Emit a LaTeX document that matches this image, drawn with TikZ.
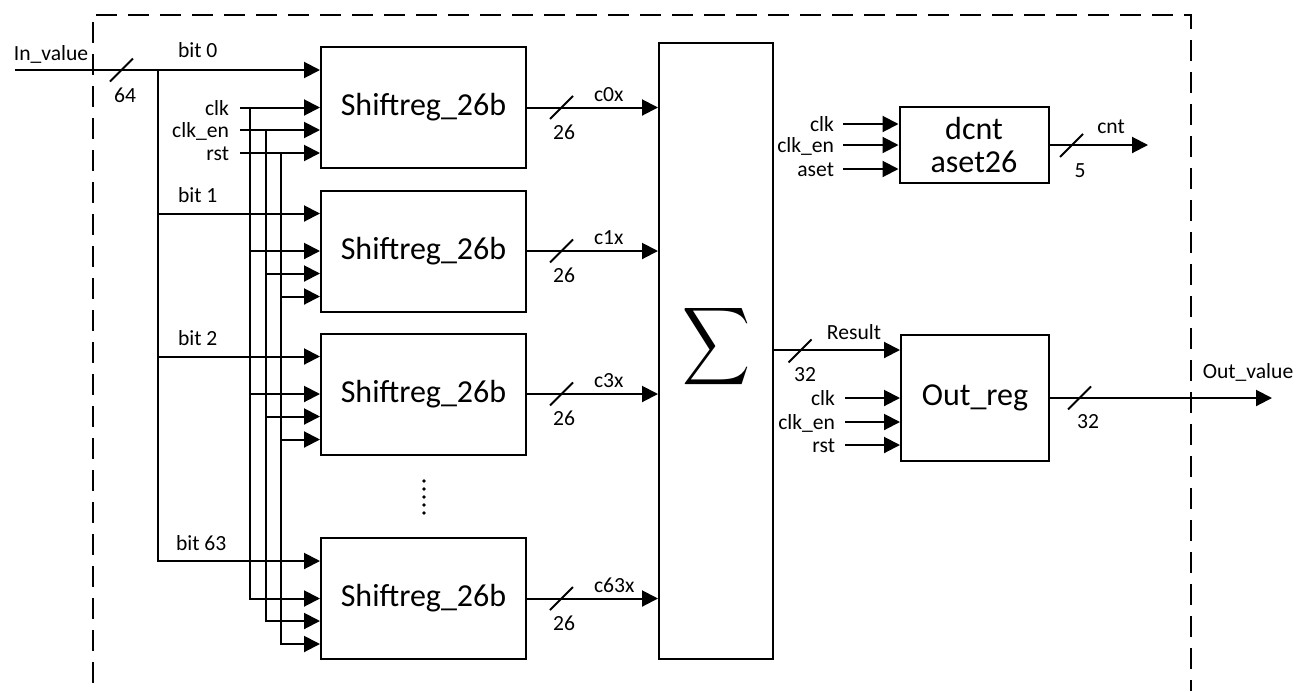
\documentclass[tikz,border=0pt]{standalone}
\usepackage{fontspec}
\setmainfont{Carlito}
\usepackage{graphicx}
\usetikzlibrary{arrows.meta}
\begin{document}
\begin{tikzpicture}[x=0.5pt,y=-0.5pt,line width=1pt,
  arr/.style={-{Triangle[length=8pt,width=8pt]}},
  lbl/.style={font=\fontsize{10.8}{12}\selectfont,inner sep=0pt,text height=7.6pt,text depth=0pt},
  blk/.style={draw,line width=1pt,inner sep=0pt,align=center,font=\fontsize{16}{16.5}\selectfont},
  srbox/.style={blk,minimum width=102.5pt,minimum height=60.5pt},
  frame/.style={line width=1.35pt,dash pattern=on 10.5pt off 5.5pt},
  slash/.style={line width=1pt}]
\useasboundingbox (0,0) rectangle (1304,691);

% dashed frame
\draw[frame] (96,15) -- (1191,15) -- (1191,691);
\draw[frame] (93,22) -- (93,691);

% shift registers
\node[srbox] (sr1) at (423.5,107.5) {Shiftreg\_26b};
\node[srbox] (sr2) at (423.5,251) {Shiftreg\_26b};
\node[srbox] (sr3) at (423.5,394) {Shiftreg\_26b};
\node[srbox] (sr4) at (423.5,598.5) {Shiftreg\_26b};

% sum
\node[blk,minimum width=57pt,minimum height=308pt] (sum) at (716,351) {};
\node[inner sep=0pt] (sigma) at (716,346.5) {\resizebox*{34pt}{43.5pt}{\boldmath$\displaystyle\sum$}};

% counter and output register
\node[blk,minimum width=74.5pt,minimum height=38pt] (dcnt) at (974,145) {dcnt\\aset26};
\node[blk,minimum width=74pt,minimum height=63pt] (outr) at (975,398) {Out\_reg};

% per-register tap points
\foreach \i in {1,...,4} {
  \coordinate (b\i) at ([yshift=18.75pt]sr\i.west);
  \coordinate (e\i) at ([yshift=-11.25pt]sr\i.west);
  \coordinate (r\i) at ([yshift=-22.75pt]sr\i.west);
}

% input bus
\node[lbl] (inv) at (51,53) {In\_value};
\coordinate (inS) at (15,70);
\coordinate (bj) at (158,70);
\draw[arr] (inS) -- (b1);
\draw[slash] (110,81.5) -- (133,58.5);
\node[lbl] (w64) at (125,95) {64};
\draw[arr] (bj) |- (b4);
\draw[arr] (bj |- b2) -- (b2);
\draw[arr] (bj |- b3) -- (b3);
\node[lbl,anchor=west] (lb0) at (177,50) {bit 0};
\node[lbl,anchor=west] (lb1) at (177,195) {bit 1};
\node[lbl,anchor=west] (lb2) at (177,338) {bit 2};
\node[lbl,anchor=west] (lb63) at (175,543) {bit 63};

% clock / enable / reset distribution
\node[lbl,anchor=east] (clkA) at (230,107.5) {clk};
\node[lbl,anchor=east] (ceA) at (230,130) {clk\_en};
\node[lbl,anchor=east] (rsA) at (230,153) {rst};
\draw[arr] ([xshift=5pt]clkA.east) -- (sr1.west);
\draw[arr] ([xshift=5pt]ceA.east) -- (e1);
\draw[arr] ([xshift=5pt]rsA.east) -- (r1);
\coordinate (ck) at (250,107.5);
\coordinate (cen) at (266,130);
\coordinate (rs) at (281,153);
\draw[arr] (ck) |- (sr4.west);
\draw[arr] (cen) |- (e4);
\draw[arr] (rs) |- (r4);
\foreach \i in {2,3} {
  \draw[arr] (ck |- sr\i.west) -- (sr\i.west);
  \draw[arr] (cen |- e\i) -- (e\i);
  \draw[arr] (rs |- r\i) -- (r\i);
}

% outputs to sum
\foreach \i/\l in {1/c0x,2/c1x,3/c3x,4/c63x} {
  \draw[arr] (sr\i.east) -- (sr\i.east -| sum.west);
  \draw[slash] ([shift={(23,11.5)}]sr\i.east) -- ([shift={(46,-11.5)}]sr\i.east);
  \node[lbl] (w\i) at ([shift={(37,24)}]sr\i.east) {26};
  \node[lbl,anchor=west] (c\i) at ([shift={(66,-14)}]sr\i.east) {\l};
}

% dots
\foreach \yy in {481,489,497,505,513} \fill (424,\yy) circle[radius=0.9pt];

% counter inputs/outputs
\node[lbl,anchor=east] (dclk) at (835,124) {clk};
\node[lbl,anchor=east] (dce) at (835,145) {clk\_en};
\node[lbl,anchor=east] (das) at (835,169) {aset};
\draw[arr] ([xshift=4pt]dclk.east) -- (dclk -| dcnt.west);
\draw[arr] ([xshift=4pt]dce.east) -- (dce -| dcnt.west);
\draw[arr] ([xshift=4pt]das.east) -- (das -| dcnt.west);
\coordinate (cntE) at (1148,145);
\draw[arr] (dcnt.east) -- (cntE);
\draw[slash] (1060,157) -- (1083,134);
\node[lbl] (w5) at (1080,170) {5};
\node[lbl] (cntl) at (1111,126) {cnt};

% result
\coordinate (resE) at ([yshift=-8pt]outr.north west);
\draw[arr] (resE -| sum.east) -- (resE);
\draw[slash] (788.5,362.5) -- (811.5,339.5);
\node[lbl] (w32a) at (805,374) {32};
\node[lbl] (resl) at (854,332) {Result};

% out_reg inputs
\node[lbl,anchor=east] (oclk) at (836,398) {clk};
\node[lbl,anchor=east] (oce) at (836,422) {clk\_en};
\node[lbl,anchor=east] (ors) at (836,445) {rst};
\draw[arr] ([xshift=4.5pt]oclk.east) -- (oclk -| outr.west);
\draw[arr] ([xshift=4.5pt]oce.east) -- (oce -| outr.west);
\draw[arr] ([xshift=4.5pt]ors.east) -- (ors -| outr.west);

% output
\coordinate (outE) at (1272,398);
\draw[arr] (outr.east) -- (outE);
\draw[slash] (1068,409.5) -- (1091,386.5);
\node[lbl] (w32b) at (1088,421) {32};
\node[lbl] (outl) at (1248,371) {Out\_value};
\end{tikzpicture}
\end{document}
